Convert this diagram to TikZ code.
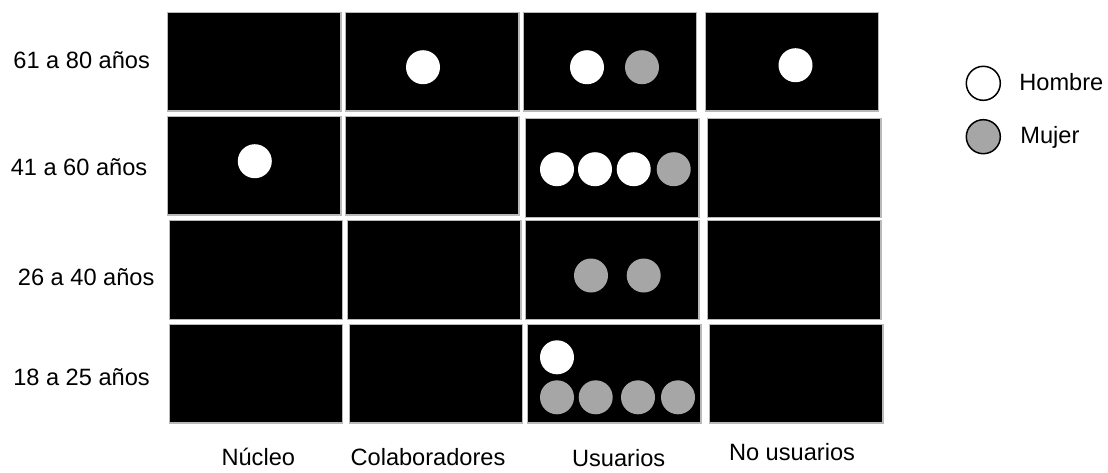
\documentclass[tikz,border=0pt]{standalone}
\usepackage{fontspec}
\setmainfont{Liberation Sans}
\usepackage{tikz}
\usetikzlibrary{positioning}
\definecolor{mujergris}{RGB}{166,166,166}
\begin{document}
\begin{tikzpicture}[x=0.5pt,y=-0.5pt,
  celda/.style={rectangle,fill=black,draw=gray!55,line width=0.6pt,inner sep=0pt,
    minimum width=86.85pt,minimum height=49.35pt},
  punto/.style={circle,inner sep=0pt,minimum size=17pt},
  hombre/.style={punto,fill=white},
  mujer/.style={punto,fill=mujergris},
  etiq/.style={inner sep=0pt,anchor=base,font=\fontsize{11.8}{14}\selectfont}]
\useasboundingbox (0,0) rectangle (1108,472);
\node[celda] (c11) at (254.2,61.7) {};
\node[celda] (c12) at (432.2,61.7) {};
\node[celda] (c13) at (610,61.7) {};
\node[celda] (c14) at (792,61.7) {};
\node[celda] (c21) at (254.2,165.7) {};
\node[celda] (c22) at (432.2,165.7) {};
\node[celda] (c23) at (612.2,167.8) {};
\node[celda] (c24) at (794.2,167.8) {};
\node[celda] (c31) at (256,269.9) {};
\node[celda] (c32) at (434.2,269.9) {};
\node[celda] (c33) at (612.2,269.9) {};
\node[celda] (c34) at (794.2,269.9) {};
\node[celda] (c41) at (256,373.7) {};
\node[celda] (c42) at (436,373.7) {};
\node[celda] (c43) at (614.2,373.7) {};
\node[celda] (c44) at (796.2,373.7) {};
\foreach \i/\x/\y in {1/423/67.2,2/587/67.2,3/795.5/65.2,4/254.8/161.2,
  5/557/169.2,6/595/169.2,7/633.7/169.2,8/557/357.3}
  \node[hombre] (h\i) at (\x,\y) {};
\foreach \i/\x/\y in {1/642/67.2,2/673.7/169.2,3/591/275.5,4/643.7/275.5,
  5/557/397.3,6/595.7/397.3,7/638/397.3,8/678/397.3}
  \node[mujer] (m\i) at (\x,\y) {};
\node[etiq] (edad1) at (81.7,68.3) {61 a 80 años};
\node[etiq] (edad2) at (79,175) {41 a 60 años};
\node[etiq] (edad3) at (86.2,285) {26 a 40 años};
\node[etiq] (edad4) at (81.5,385) {18 a 25 años};
\node[etiq] (grupo1) at (258.3,465.7) {Núcleo};
\node[etiq] (grupo2) at (428,465.7) {Colaboradores};
\node[etiq] (grupo3) at (618.7,466.7) {Usuarios};
\node[etiq] (grupo4) at (792,460.7) {No usuarios};
\node[punto,fill=white,draw=black,line width=0.75pt] (leyh) at (983.3,83.3) {};
\node[punto,fill=mujergris,draw=black,line width=0.75pt] (leym) at (983.3,136.7) {};
\node[etiq,anchor=base west] (texth) at (1019,90.7) {Hombre};
\node[etiq,anchor=base west] (textm) at (1020,143.5) {Mujer};
\end{tikzpicture}
\end{document}
